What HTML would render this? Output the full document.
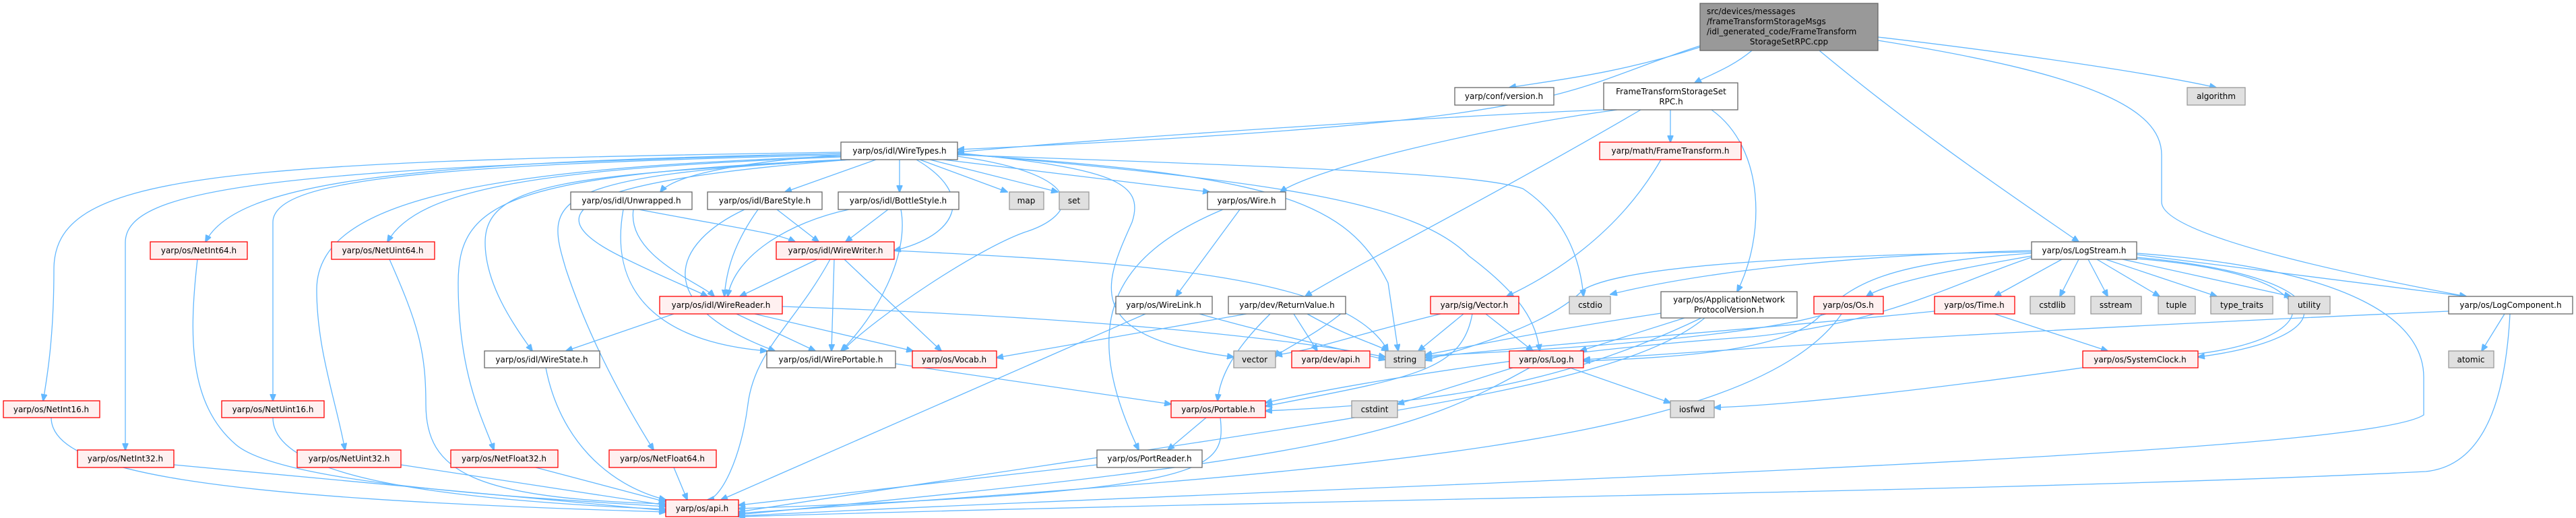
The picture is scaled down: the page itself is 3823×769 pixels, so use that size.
<!DOCTYPE html>
<html><head><meta charset="utf-8"><style>
html,body{margin:0;padding:0;background:#fff;}
svg{display:block;}
.e{fill:none;stroke:#63b8ff;stroke-width:1.3;}
text{font-family:"DejaVu Sans","Liberation Sans",sans-serif;font-size:12px;fill:#000;}
.n{fill:#fff;stroke:#666;stroke-width:1.3;}
.r{fill:#fff0f0;stroke:#ff0000;stroke-width:1.3;}
.g{fill:#e0e0e0;stroke:#999;stroke-width:1.3;}
.s{fill:#999;stroke:#666;stroke-width:1.3;}
</style></head><body>
<svg width="3823" height="769" viewBox="0 0 3823 769" xmlns="http://www.w3.org/2000/svg">
<defs><marker id="a" markerWidth="11" markerHeight="9" refX="10" refY="4.5" orient="auto" markerUnits="userSpaceOnUse"><path d="M0,0 L11,4.5 L0,9 z" fill="#63b8ff" stroke="#63b8ff"/></marker></defs>
<g class="e" marker-end="url(#a)">
<path d="M2523 70 C2400 110,2300 120,2240 130"/>
<path d="M2600 75 C2570 100,2540 110,2515 123"/>
<path d="M2523 68 C2300 140,2350 180,1421 222"/>
<path d="M2700 75 C2850 200,3000 300,3085 359"/>
<path d="M2787 55 C3000 80,3200 110,3289 130"/>
<path d="M2787 60 C3100 110,3208 160,3208 230 L3208 300 C3208 350,3500 410,3660 440"/>
<path d="M2380 163 C2200 170,1700 200,1421 226"/>
<path d="M2479 163 L2479 211"/>
<path d="M2540 163 C2620 220,2620 350,2578 433"/>
<path d="M2400 163 C2200 190,1950 250,1900 285"/>
<path d="M2435 163 C2200 300,2000 400,1937 440"/>
<path d="M2465 237 C2400 350,2300 410,2236 440"/>
<path d="M1248 226 C300 240,80 260,80 400 C80 500,70 560,64 595"/>
<path d="M1248 228 C400 250,186 280,186 360 L186 668"/>
<path d="M1248 228 C600 240,350 270,305 359"/>
<path d="M1248 230 C600 245,405 270,405 330 L405 595"/>
<path d="M1248 232 C700 250,470 300,470 430 C470 520,500 600,512 668"/>
<path d="M1248 233 C800 250,620 280,575 359"/>
<path d="M1250 237 C750 260,680 300,680 420 C680 560,720 630,733 668"/>
<path d="M1262 237 C800 260,810 300,840 400 C880 520,940 620,970 668"/>
<path d="M1262 237 C850 260,720 270,720 360 C720 420,760 480,790 521"/>
<path d="M1250 230 C1100 240,1000 260,980 285"/>
<path d="M1300 237 L1165 285"/>
<path d="M1335 237 L1335 285"/>
<path d="M1365 237 L1495 285"/>
<path d="M1380 237 L1570 285"/>
<path d="M1400 237 L1795 285"/>
<path d="M1360 237 C1450 290,1420 350,1327 372"/>
<path d="M1262 237 C830 270,800 320,920 380 C980 410,1030 430,1050 440"/>
<path d="M1421 232 C1620 260,1600 320,1520 345 C1450 370,1300 470,1250 521"/>
<path d="M1421 230 C2000 250,2200 260,2260 280 C2320 320,2345 380,2350 440"/>
<path d="M1421 229 C1900 260,2000 300,2060 420 L2075 521"/>
<path d="M1421 228 C1900 270,2100 300,2180 380 C2260 440,2280 480,2285 521"/>
<path d="M1421 227 C1650 250,1700 270,1680 330 C1640 420,1600 500,1831 530"/>
<path d="M940 311 C930 380,1040 420,1060 440"/>
<path d="M948 311 C1100 340,1150 345,1180 359"/>
<path d="M925 311 C900 450,1000 510,1138 521"/>
<path d="M1125 311 C1090 360,1078 400,1075 440"/>
<path d="M1153 311 L1215 359"/>
<path d="M1105 311 C1000 360,960 450,1150 521"/>
<path d="M1318 311 L1255 359"/>
<path d="M1260 311 C1170 330,1090 380,1080 440"/>
<path d="M1337 311 C1350 380,1300 470,1248 521"/>
<path d="M1213 385 L1098 440"/>
<path d="M1238 385 L1234 521"/>
<path d="M1253 385 L1397 521"/>
<path d="M1232 385 C1180 480,1120 520,1110 600 C1100 680,1070 740,1050 742"/>
<path d="M1327 372 C1700 390,2000 410,2060 521"/>
<path d="M1000 466 L840 521"/>
<path d="M1093 466 L1210 521"/>
<path d="M1120 466 L1355 521"/>
<path d="M1161 455 C1600 470,1900 500,2056 530"/>
<path d="M1329 540 L1738 600"/>
<path d="M1840 311 L1745 440"/>
<path d="M1815 311 C1650 380,1600 480,1690 668"/>
<path d="M1700 466 L1070 742"/>
<path d="M1780 466 C1900 500,2000 520,2056 534"/>
<path d="M1850 466 L1479 531"/>
<path d="M1885 466 C1830 520,1810 560,1807 595"/>
<path d="M1920 466 L1955 521"/>
<path d="M1997 460 C1950 500,1900 520,1893 530"/>
<path d="M1940 466 C2000 500,2040 510,2060 521"/>
<path d="M1790 620 L1733 668"/>
<path d="M1811 620 C1820 700,1800 730,1096 755"/>
<path d="M1628 690 L1096 750"/>
<path d="M76 620 C76 700,300 740,988 760"/>
<path d="M258 690 L988 758"/>
<path d="M405 620 C405 700,600 740,988 756"/>
<path d="M293 385 C280 500,280 600,350 660 C420 720,800 740,988 752"/>
<path d="M595 690 L988 750"/>
<path d="M578 385 C620 480,632 520,632 600 C632 700,700 740,988 748"/>
<path d="M795 694 L988 745"/>
<path d="M1000 694 L1020 742"/>
<path d="M810 546 C830 650,900 720,988 742"/>
<path d="M2172 466 L2105 521"/>
<path d="M2205 466 L2275 521"/>
<path d="M2185 466 C2170 550,2100 560,1878 603"/>
<path d="M2138 466 C2000 500,1950 520,1893 527"/>
<path d="M2465 465 C2300 490,2200 510,2115 527"/>
<path d="M2500 472 L2345 521"/>
<path d="M2525 472 C2300 580,2100 600,1878 610"/>
<path d="M2530 472 C2400 580,2000 620,1096 760"/>
<path d="M2710 466 C2600 500,2300 520,2115 528"/>
<path d="M2733 466 C2600 660,2000 700,1096 762"/>
<path d="M2871 462 C2600 490,2300 510,2115 531"/>
<path d="M2960 466 L3128 521"/>
<path d="M2245 546 L2074 600"/>
<path d="M2330 546 L2479 598"/>
<path d="M2270 546 C2100 640,2000 680,1096 764"/>
<path d="M3015 374 C2600 380,2400 400,2350 430 C2300 480,2200 510,2115 535"/>
<path d="M3015 376 C2800 390,2750 420,2700 470 C2650 520,2500 530,2350 536"/>
<path d="M3015 372 C2700 380,2500 410,2390 437"/>
<path d="M3015 380 C2900 400,2800 420,2770 440"/>
<path d="M3060 385 L2960 440"/>
<path d="M3085 385 L3057 440"/>
<path d="M3099 385 L3128 440"/>
<path d="M3112 385 L3205 440"/>
<path d="M3125 385 L3290 440"/>
<path d="M3150 385 L3400 440"/>
<path d="M3171 378 L3660 440"/>
<path d="M3171 382 C3480 410,3490 500,3262 530"/>
<path d="M3171 384 C3500 410,3450 520,3200 530 C3000 560,2700 600,2544 605"/>
<path d="M3015 382 C2900 420,2800 480,2600 500 C2300 520,2000 570,1878 598"/>
<path d="M3171 376 C3500 400,3597 480,3597 560 L3597 616 C3500 680,2000 720,1096 766"/>
<path d="M3717 466 L3683 521"/>
<path d="M3634 462 C3000 490,2700 510,2350 534"/>
<path d="M3725 466 C3720 560,3700 690,3600 700 C3000 730,2000 740,1096 767"/>
</g>
<!-- nodes -->
<rect class="s" x="2523" y="5" width="264" height="70"/>
<text x="2533" y="21">src/devices/messages</text>
<text x="2533" y="36">/frameTransformStorageMsgs</text>
<text x="2533" y="51">/idl_generated_code/FrameTransform</text>
<text x="2655" y="66" text-anchor="middle">StorageSetRPC.cpp</text>
<g text-anchor="middle">
<rect class="n" x="2159" y="130" width="147" height="26"/><text x="2232" y="147">yarp/conf/version.h</text>
<rect class="n" x="2380" y="123" width="199" height="40"/><text x="2480" y="140">FrameTransformStorageSet</text><text x="2480" y="155">RPC.h</text>
<rect class="g" x="3246" y="130" width="86" height="26"/><text x="3289" y="147">algorithm</text>
<rect class="n" x="1248" y="211" width="173" height="26"/><text x="1335" y="228">yarp/os/idl/WireTypes.h</text>
<rect class="r" x="2374" y="211" width="210" height="26"/><text x="2479" y="228">yarp/math/FrameTransform.h</text>
<rect class="n" x="847" y="285" width="180" height="26"/><text x="937" y="302">yarp/os/idl/Unwrapped.h</text>
<rect class="n" x="1050" y="285" width="170" height="26"/><text x="1135" y="302">yarp/os/idl/BareStyle.h</text>
<rect class="n" x="1244" y="285" width="179" height="26"/><text x="1333" y="302">yarp/os/idl/BottleStyle.h</text>
<rect class="g" x="1498" y="285" width="51" height="26"/><text x="1523" y="302">map</text>
<rect class="g" x="1572" y="285" width="44" height="26"/><text x="1594" y="302">set</text>
<rect class="n" x="1792" y="285" width="116" height="26"/><text x="1850" y="302">yarp/os/Wire.h</text>
<rect class="n" x="3015" y="359" width="156" height="26"/><text x="3093" y="376">yarp/os/LogStream.h</text>
<rect class="r" x="223" y="359" width="144" height="26"/><text x="295" y="376">yarp/os/NetInt64.h</text>
<rect class="r" x="492" y="359" width="153" height="26"/><text x="568" y="376">yarp/os/NetUint64.h</text>
<rect class="r" x="1152" y="359" width="175" height="26"/><text x="1240" y="376">yarp/os/idl/WireWriter.h</text>
<rect class="r" x="979" y="440" width="182" height="26"/><text x="1070" y="457">yarp/os/idl/WireReader.h</text>
<rect class="n" x="1656" y="440" width="143" height="26"/><text x="1727" y="457">yarp/os/WireLink.h</text>
<rect class="n" x="1823" y="440" width="174" height="26"/><text x="1910" y="457">yarp/dev/ReturnValue.h</text>
<rect class="r" x="2123" y="440" width="131" height="26"/><text x="2188" y="457">yarp/sig/Vector.h</text>
<rect class="g" x="2329" y="440" width="61" height="26"/><text x="2360" y="457">cstdio</text>
<rect class="n" x="2465" y="433" width="202" height="39"/><text x="2566" y="449">yarp/os/ApplicationNetwork</text><text x="2566" y="464">ProtocolVersion.h</text>
<rect class="r" x="2692" y="440" width="103" height="26"/><text x="2743" y="457">yarp/os/Os.h</text>
<rect class="r" x="2871" y="440" width="119" height="26"/><text x="2930" y="457">yarp/os/Time.h</text>
<rect class="g" x="3013" y="440" width="66" height="26"/><text x="3046" y="457">cstdlib</text>
<rect class="g" x="3103" y="440" width="75" height="26"/><text x="3140" y="457">sstream</text>
<rect class="g" x="3203" y="440" width="55" height="26"/><text x="3230" y="457">tuple</text>
<rect class="g" x="3281" y="440" width="92" height="26"/><text x="3327" y="457">type_traits</text>
<rect class="g" x="3396" y="440" width="62" height="26"/><text x="3427" y="457">utility</text>
<rect class="n" x="3634" y="440" width="184" height="26"/><text x="3726" y="457">yarp/os/LogComponent.h</text>
<rect class="n" x="719" y="521" width="171" height="25"/><text x="804" y="538">yarp/os/idl/WireState.h</text>
<rect class="n" x="1138" y="521" width="191" height="25"/><text x="1233" y="538">yarp/os/idl/WirePortable.h</text>
<rect class="r" x="1354" y="521" width="125" height="25"/><text x="1416" y="538">yarp/os/Vocab.h</text>
<rect class="g" x="1831" y="521" width="62" height="25"/><text x="1862" y="538">vector</text>
<rect class="r" x="1917" y="521" width="116" height="25"/><text x="1975" y="538">yarp/dev/api.h</text>
<rect class="g" x="2056" y="521" width="59" height="25"/><text x="2085" y="538">string</text>
<rect class="r" x="2240" y="521" width="110" height="25"/><text x="2295" y="538">yarp/os/Log.h</text>
<rect class="r" x="3091" y="521" width="171" height="25"/><text x="3176" y="538">yarp/os/SystemClock.h</text>
<rect class="g" x="3634" y="521" width="67" height="25"/><text x="3667" y="538">atomic</text>
<rect class="r" x="5" y="595" width="143" height="25"/><text x="76" y="612">yarp/os/NetInt16.h</text>
<rect class="r" x="329" y="595" width="152" height="25"/><text x="405" y="612">yarp/os/NetUint16.h</text>
<rect class="r" x="1738" y="595" width="140" height="25"/><text x="1808" y="612">yarp/os/Portable.h</text>
<rect class="g" x="2006" y="595" width="68" height="25"/><text x="2040" y="612">cstdint</text>
<rect class="g" x="2479" y="595" width="65" height="25"/><text x="2511" y="612">iosfwd</text>
<rect class="r" x="115" y="668" width="143" height="26"/><text x="186" y="685">yarp/os/NetInt32.h</text>
<rect class="r" x="441" y="668" width="154" height="26"/><text x="518" y="685">yarp/os/NetUint32.h</text>
<rect class="r" x="669" y="668" width="159" height="26"/><text x="748" y="685">yarp/os/NetFloat32.h</text>
<rect class="r" x="904" y="668" width="159" height="26"/><text x="983" y="685">yarp/os/NetFloat64.h</text>
<rect class="n" x="1628" y="668" width="156" height="26"/><text x="1706" y="685">yarp/os/PortReader.h</text>
<rect class="r" x="988" y="742" width="108" height="25"/><text x="1042" y="759">yarp/os/api.h</text>
</g>
</svg>
</body></html>
